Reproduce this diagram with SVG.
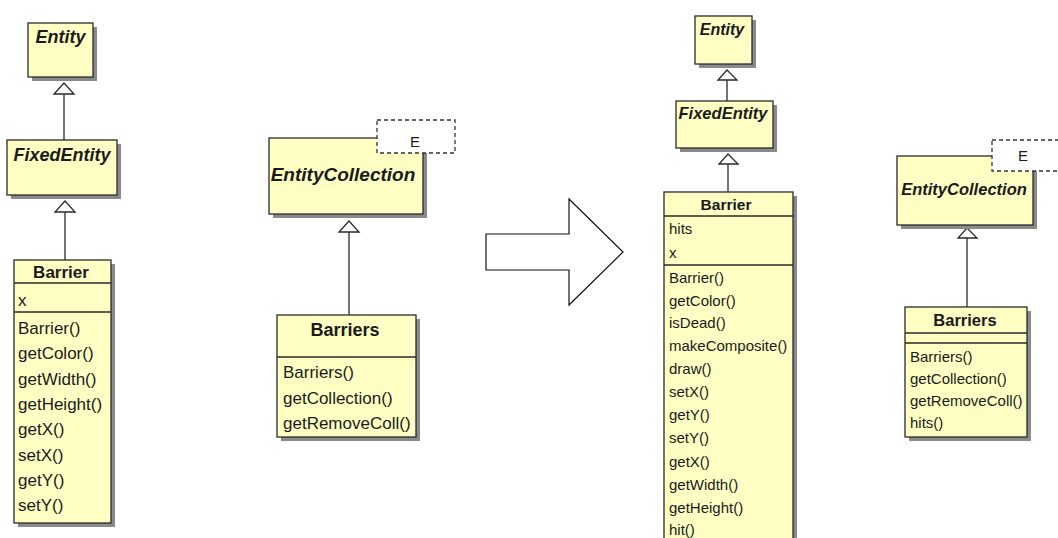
<svg xmlns="http://www.w3.org/2000/svg" width="1058" height="538" viewBox="0 0 1058 538">
<style>
.bg{fill:#ffffff}
.box{fill:#ffffc4;stroke:#2a2a2a;stroke-width:1.3}
.sh{fill:#8a8a8a}
.sep{stroke:#2a2a2a;stroke-width:1.3}
.tpl{fill:#ffffff;stroke:#333;stroke-width:1.3;stroke-dasharray:4 3}
.t{font-family:"Liberation Sans",Arial,sans-serif;fill:#1a1a1a}
.ti{font-weight:bold;font-style:italic;text-anchor:middle}
.tb{font-weight:bold;text-anchor:middle}
.edge{stroke:#2a2a2a;stroke-width:1.3;fill:none}
.tri{fill:#ffffff;stroke:#2a2a2a;stroke-width:1.3}
.big{fill:#ffffff;stroke:#111;stroke-width:1.2}
</style>
<rect class="bg" x="0" y="0" width="1058" height="538"/>

<g id="connectors">
  <line class="edge" x1="64" y1="94" x2="64" y2="140"/>
  <polygon class="tri" points="64,83 54,94 74,94"/>
  <line class="edge" x1="65" y1="212" x2="65" y2="260"/>
  <polygon class="tri" points="65,201 55,212 75,212"/>
  <line class="edge" x1="349" y1="232" x2="349" y2="315"/>
  <polygon class="tri" points="349,221 339,232 359,232"/>
  <line class="edge" x1="727" y1="80" x2="727" y2="101"/>
  <polygon class="tri" points="727,70 718,80 737,80"/>
  <line class="edge" x1="728" y1="164" x2="728" y2="192"/>
  <polygon class="tri" points="728,154 719,164 738,164"/>
  <line class="edge" x1="967" y1="238" x2="967" y2="307"/>
  <polygon class="tri" points="967,228 958,238 977,238"/>
</g>

<g id="big-arrow">
  <polygon class="big" points="486,234 569,234 569,199 623,252 569,305 569,270 486,270"/>
</g>

<g id="entity-left">
  <rect class="sh" x="32" y="27" width="65" height="54"/>
  <rect class="box" x="28" y="23" width="65" height="54"/>
  <text class="t ti" x="60.5" y="43" font-size="18">Entity</text>
</g>

<g id="fixedentity-left">
  <rect class="sh" x="11" y="144" width="110" height="55"/>
  <rect class="box" x="7" y="140" width="110" height="55"/>
  <text class="t ti" x="62" y="161" font-size="18">FixedEntity</text>
</g>

<g id="barrier-left">
  <rect class="sh" x="18" y="264" width="97" height="263"/>
  <rect class="box" x="14" y="260" width="97" height="263"/>
  <text class="t tb" x="61" y="278" font-size="17">Barrier</text>
  <line class="sep" x1="14" y1="283" x2="111" y2="283"/>
  <text class="t" x="18" y="306" font-size="17">x</text>
  <line class="sep" x1="14" y1="312" x2="111" y2="312"/>
  <g class="t" font-size="17">
    <text x="18" y="334">Barrier()</text>
    <text x="18" y="359">getColor()</text>
    <text x="18" y="385">getWidth()</text>
    <text x="18" y="410">getHeight()</text>
    <text x="18" y="435">getX()</text>
    <text x="18" y="461">setX()</text>
    <text x="18" y="486">getY()</text>
    <text x="18" y="511">setY()</text>
  </g>
</g>

<g id="entitycollection-mid">
  <rect class="sh" x="273" y="142" width="154" height="76"/>
  <rect class="box" x="269" y="138" width="154" height="76"/>
  <text class="t ti" x="343" y="181" font-size="19">EntityCollection</text>
  <rect class="tpl" x="377" y="120" width="78" height="33"/>
  <text class="t" x="415" y="147" font-size="15" text-anchor="middle">E</text>
</g>

<g id="barriers-mid">
  <rect class="sh" x="281" y="319" width="139" height="122"/>
  <rect class="box" x="277" y="315" width="139" height="122"/>
  <text class="t tb" x="345" y="336" font-size="18">Barriers</text>
  <line class="sep" x1="277" y1="357" x2="416" y2="357"/>
  <g class="t" font-size="17">
    <text x="283" y="378">Barriers()</text>
    <text x="283" y="404">getCollection()</text>
    <text x="283" y="429">getRemoveColl()</text>
  </g>
</g>

<g id="entity-right">
  <rect class="sh" x="699" y="20" width="57" height="48"/>
  <rect class="box" x="695" y="16" width="57" height="48"/>
  <text class="t ti" x="722" y="35" font-size="16">Entity</text>
</g>

<g id="fixedentity-right">
  <rect class="sh" x="680" y="105" width="97" height="47"/>
  <rect class="box" x="676" y="101" width="97" height="47"/>
  <text class="t ti" x="723" y="119" font-size="16.5">FixedEntity</text>
</g>

<g id="barrier-right">
  <rect class="sh" x="668" y="196" width="129" height="350"/>
  <rect class="box" x="664" y="192" width="129" height="350"/>
  <text class="t tb" x="726" y="210" font-size="15.5">Barrier</text>
  <line class="sep" x1="664" y1="216" x2="793" y2="216"/>
  <g class="t" font-size="15">
    <text x="669" y="234">hits</text>
    <text x="669" y="258">x</text>
  </g>
  <line class="sep" x1="664" y1="265" x2="793" y2="265"/>
  <g class="t" font-size="15">
    <text x="669" y="283">Barrier()</text>
    <text x="669" y="306">getColor()</text>
    <text x="669" y="328">isDead()</text>
    <text x="669" y="351">makeComposite()</text>
    <text x="669" y="374">draw()</text>
    <text x="669" y="397">setX()</text>
    <text x="669" y="420">getY()</text>
    <text x="669" y="443">setY()</text>
    <text x="669" y="467">getX()</text>
    <text x="669" y="490">getWidth()</text>
    <text x="669" y="513">getHeight()</text>
    <text x="669" y="535">hit()</text>
  </g>
</g>

<g id="entitycollection-right">
  <rect class="sh" x="901" y="160" width="136" height="69"/>
  <rect class="box" x="897" y="156" width="136" height="69"/>
  <text class="t ti" x="964" y="195" font-size="16.5">EntityCollection</text>
  <rect class="tpl" x="992" y="140" width="80" height="31"/>
  <text class="t" x="1023" y="161" font-size="15" text-anchor="middle">E</text>
</g>

<g id="barriers-right">
  <rect class="sh" x="909" y="311" width="122" height="130"/>
  <rect class="box" x="905" y="307" width="122" height="130"/>
  <text class="t tb" x="965" y="326" font-size="16.5">Barriers</text>
  <line class="sep" x1="905" y1="333" x2="1027" y2="333"/>
  <line class="sep" x1="905" y1="343" x2="1027" y2="343"/>
  <g class="t" font-size="15">
    <text x="910" y="362">Barriers()</text>
    <text x="910" y="384">getCollection()</text>
    <text x="910" y="406">getRemoveColl()</text>
    <text x="910" y="428">hits()</text>
  </g>
</g>
</svg>
